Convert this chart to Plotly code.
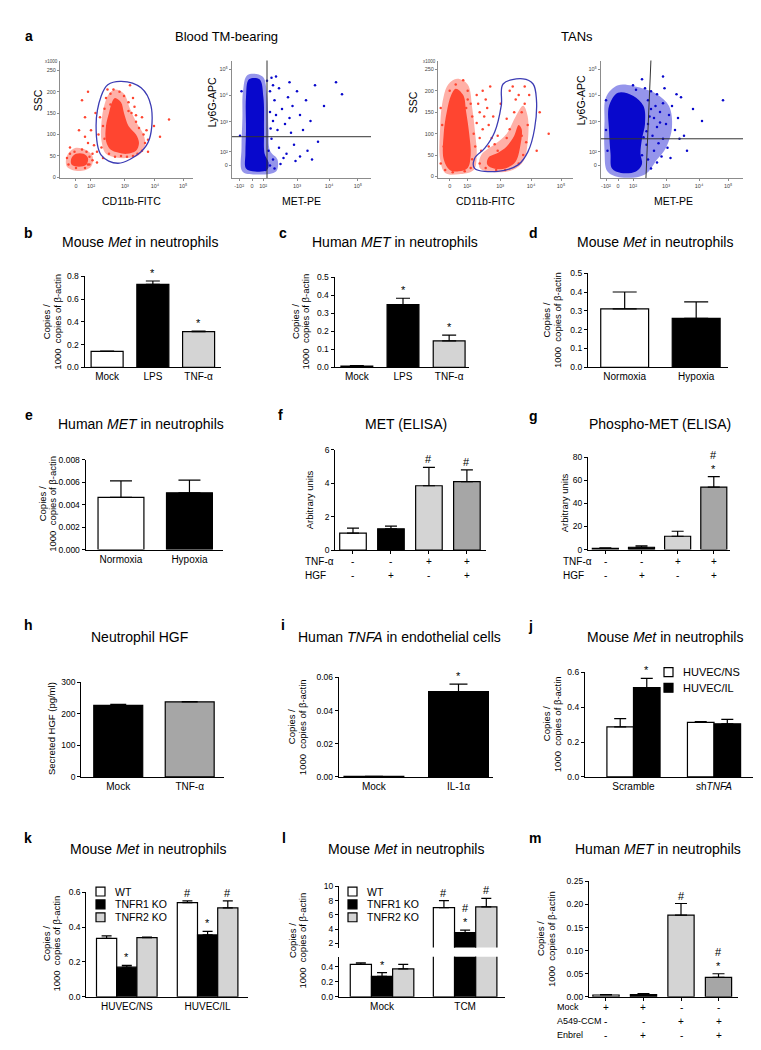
import plotly.graph_objects as go

W, H = 761, 1050
FONT = 'Liberation Sans, Arial, sans-serif'
RED = '#ff4530'
RED_HALO = 'rgba(255,80,60,0.45)'
BLUE = '#0808cc'
BLUE_HALO = 'rgba(20,20,210,0.45)'
GATE = '#3c3cb4'
WHITE, BLACK, LGREY, MGREY = '#ffffff', '#000000', '#d4d4d4', '#a6a6a6'

# ---------------- a: flow cytometry dot plots ----------------
# x / y in display units of the biexponential axes (1 unit ~ one decade), SSC in x1000
# dense = outline of the saturated core, halo = outline of the lighter fringe
a1_big_dense = [(1.3, 185), (1.5, 175), (1.6, 150), (1.75, 120), (2.0, 100), (2.1, 80), (2.0, 62),
                (1.7, 55), (1.4, 58), (1.15, 65), (1.0, 85), (1.0, 120), (1.1, 150), (1.2, 175), (1.3, 185)]
a1_big_halo = [(1.3, 205), (1.6, 195), (1.8, 160), (2.0, 130), (2.25, 100), (2.3, 75), (2.1, 52),
               (1.7, 45), (1.3, 47), (1.0, 55), (0.85, 85), (0.85, 130), (0.95, 170), (1.1, 195), (1.3, 205)]
a1_small_dense = [(-0.15, 45), (0.0, 55), (0.25, 55), (0.4, 45), (0.35, 30), (0.1, 25), (-0.15, 30), (-0.15, 45)]
a1_small_halo = [(-0.3, 50), (-0.05, 68), (0.3, 65), (0.55, 50), (0.5, 25), (0.1, 15), (-0.3, 25), (-0.3, 50)]
a1_dots = [(0.85, 70), (0.9, 120), (0.95, 160), (1.0, 185), (1.15, 195), (1.25, 205), (1.45, 200),
           (1.6, 190), (1.75, 175), (1.85, 150), (2.0, 130), (2.1, 115), (2.25, 100), (2.3, 80),
           (2.2, 62), (2.05, 55), (1.9, 50), (1.7, 48), (1.5, 50), (1.3, 48), (1.1, 55), (0.95, 90),
           (1.75, 155), (1.95, 165), (2.2, 140), (1.15, 170), (0.8, 140), (0.75, 100), (0.7, 60),
           (0.4, 80), (0.5, 110), (0.3, 140), (0.6, 75), (0.55, 55), (0.45, 30), (0.7, 35),
           (2.6, 120), (2.8, 95), (3.1, 135), (0.2, 180), (0.4, 200), (1.8, 215), (2.4, 60),
           (0.1, 110), (-0.2, 70), (0.3, 95), (-0.3, 45), (-0.25, 30), (0.4, 30), (0.45, 48),
           (0.35, 60), (0.2, 65), (-0.05, 60), (0.0, 22), (0.3, 22), (0.55, 40), (-0.2, 55),
           (2.35, 110), (2.0, 145), (1.9, 185), (1.05, 205), (0.9, 45), (2.4, 88), (0.65, 150)]
a1_gate = [(1.06, 216), (1.51, 224), (2.17, 209), (2.50, 167), (2.45, 90), (2.17, 60), (1.40, 33),
           (0.84, 52), (0.67, 121), (0.84, 190), (1.06, 216)]

a2_dense = [(-0.1, 2.9), (0.25, 2.9), (0.38, 2.3), (0.4, 1.2), (0.42, 0.4), (0.55, 0.1), (0.5, -0.15),
            (0.1, -0.2), (-0.2, -0.1), (-0.22, 0.4), (-0.2, 1.2), (-0.2, 2.3), (-0.1, 2.9)]
a2_halo = [(-0.15, 3.05), (0.35, 3.0), (0.5, 2.4), (0.55, 1.2), (0.6, 0.5), (0.85, 0.2), (0.8, -0.2),
           (0.1, -0.3), (-0.32, -0.2), (-0.35, 0.6), (-0.32, 1.6), (-0.3, 2.5), (-0.15, 3.05)]
a2_dots = [(0.6, 2.5), (0.75, 2.2), (0.9, 2.6), (1.0, 1.9), (1.2, 2.3), (1.35, 2.0), (1.5, 2.5),
           (1.6, 1.7), (1.8, 2.2), (1.95, 1.5), (2.1, 2.7), (0.7, 1.5), (0.85, 1.2), (1.1, 1.4),
           (1.3, 1.1), (0.65, 0.9), (0.9, 0.6), (1.15, 0.4), (1.4, 0.7), (1.6, 0.3), (1.85, 0.5),
           (2.2, 0.8), (0.7, 0.2), (0.95, 0.05), (0.6, 0.0), (0.55, 0.5), (0.6, 1.8), (1.7, 1.2),
           (2.4, 2.0), (3.0, 2.4), (2.8, 2.8), (0.8, 3.0), (1.25, 2.8), (0.5, 2.85), (-0.35, 2.5),
           (-0.4, 1.0), (0.65, 2.95), (1.45, 0.15), (0.45, -0.15), (0.75, -0.1), (2.0, 0.2),
           (0.7, 2.7), (0.8, 1.7), (1.05, 0.25), (0.62, 1.25), (1.25, 1.6)]
a2_vline = [(0.5, -0.5), (0.5, 3.6)]
a2_hline = [(-0.7, 0.97), (4.0, 0.97)]

a3_left_dense = [(0.2, 205), (0.45, 190), (0.55, 150), (0.65, 100), (0.7, 50), (0.6, 20), (0.3, 12),
                 (0.0, 15), (-0.2, 40), (-0.2, 100), (-0.1, 150), (0.05, 190), (0.2, 205)]
a3_left_halo = [(0.25, 228), (0.6, 215), (0.75, 160), (0.85, 100), (0.9, 50), (0.8, 15), (0.3, 5),
                (-0.15, 8), (-0.32, 40), (-0.32, 110), (-0.25, 170), (-0.05, 215), (0.25, 228)]
a3_right_dense = [(1.3, 45), (1.6, 55), (1.9, 70), (2.15, 95), (2.3, 120), (2.4, 110), (2.35, 70),
                  (2.2, 35), (1.9, 20), (1.5, 18), (1.25, 28), (1.3, 45)]
a3_right_halo = [(1.05, 50), (1.5, 75), (1.9, 100), (2.2, 140), (2.45, 165), (2.6, 140), (2.6, 80),
                 (2.45, 35), (2.1, 15), (1.5, 10), (1.0, 20), (1.05, 50)]
a3_dots = [(-0.3, 160), (-0.25, 120), (-0.2, 70), (-0.3, 30), (0.0, 200), (0.2, 215), (0.45, 225),
           (0.6, 200), (0.7, 170), (0.75, 140), (0.8, 100), (0.85, 70), (0.75, 40), (0.7, 20),
           (0.5, 12), (0.1, 10), (-0.15, 15), (0.6, 180), (0.55, 160), (0.9, 125), (1.0, 90),
           (1.05, 60), (1.0, 150), (1.1, 200), (1.2, 180), (1.3, 120), (1.4, 90), (1.1, 110),
           (1.3, 70), (1.2, 20), (1.0, 30), (0.95, 170), (1.6, 95), (1.45, 140), (1.35, 210),
           (1.6, 60), (1.5, 75), (1.9, 90), (2.0, 110), (2.4, 150), (2.5, 170), (2.3, 190),
           (2.1, 210), (2.5, 210), (2.6, 120), (2.55, 80), (2.45, 50), (2.3, 30), (1.55, 15),
           (1.85, 15), (2.15, 150), (1.9, 135), (1.7, 170), (2.0, 200), (2.65, 190), (2.4, 95),
           (3.3, 100), (2.9, 60), (3.0, 150), (0.9, 190), (1.15, 140), (1.25, 160), (2.2, 180)]
a3_gate = [(1.78, 216), (2.44, 228), (2.78, 216), (2.89, 181), (2.83, 112), (2.61, 58), (2.28, 27),
           (1.61, 12), (0.83, 19), (0.83, 42), (1.17, 66), (1.5, 104), (1.72, 166), (1.78, 216)]

a4_dense = [(0.0, 2.45), (0.5, 2.35), (0.85, 2.0), (0.9, 1.4), (0.8, 0.9), (0.75, 0.4), (0.8, 0.05),
            (0.6, -0.2), (0.1, -0.25), (-0.2, -0.1), (-0.25, 0.4), (-0.3, 1.2), (-0.3, 2.0), (0.0, 2.45)]
a4_halo = [(0.0, 2.7), (0.8, 2.6), (1.3, 2.4), (1.7, 2.0), (1.8, 1.3), (1.6, 0.6), (1.3, 0.2),
           (0.9, -0.3), (0.1, -0.4), (-0.35, -0.2), (-0.45, 0.5), (-0.45, 1.5), (-0.4, 2.3), (0.0, 2.7)]
a4_dots = [(1.0, 2.2), (1.1, 1.9), (1.2, 1.6), (1.0, 1.4), (1.3, 1.3), (1.15, 1.0), (1.4, 1.8),
           (1.5, 2.1), (1.3, 2.4), (0.95, 0.7), (1.2, 0.5), (1.5, 0.9), (1.6, 1.4), (1.7, 1.7),
           (1.8, 2.0), (1.9, 1.2), (1.0, 0.2), (1.3, 0.1), (0.9, 2.6), (0.6, 2.55), (1.65, 0.6),
           (2.0, 1.6), (2.1, 2.3), (1.45, 0.3), (0.85, 0.95), (1.05, 1.65), (1.25, 2.0), (1.35, 0.75),
           (2.2, 1.0), (2.5, 1.9), (2.8, 1.5), (1.1, 2.5), (1.55, 2.6), (0.8, 0.35), (-0.4, 1.2),
           (-0.35, 0.5), (-0.4, 2.2), (0.5, 2.7), (1.75, 0.25), (2.3, 0.5), (3.5, 2.2), (1.5, 3.0),
           (0.8, 2.9), (1.95, 2.4), (2.05, 0.9), (1.1, -0.1), (0.95, 1.15), (1.4, 1.45)]
a4_vline = [(1.1, 3.6), (0.93, -0.45)]
a4_hline = [(-0.6, 0.9), (4.2, 0.9)]

# ---------------- bar panels ----------------
b_labels = ['Mock', 'LPS', 'TNF-α']
b_vals = [0.14, 0.73, 0.315]
b_errs = [0.003, 0.03, 0.004]
b_marks = ['', '*', '*']

c_labels = ['Mock', 'LPS', 'TNF-α']
c_vals = [0.007, 0.348, 0.146]
c_errs = [0.002, 0.035, 0.033]
c_marks = ['', '*', '*']

d_labels = ['Normoxia', 'Hypoxia']
d_vals = [0.31, 0.26]
d_errs = [0.09, 0.088]

e_labels = ['Normoxia', 'Hypoxia']
e_vals = [0.00465, 0.00505]
e_errs = [0.00147, 0.00113]

f_vals = [1.02, 1.28, 3.85, 4.1]
f_errs = [0.3, 0.15, 1.1, 0.7]
f_marks = ['', '', '#', '#']
g_vals = [1.0, 2.0, 11.5, 54.0]
g_errs = [0.4, 1.2, 4.3, 9.0]
g_marks = ['', '', '', '#<br>*']
fg_tnf = ['-', '-', '+', '+']
fg_hgf = ['-', '+', '-', '+']

h_labels = ['Mock', 'TNF-α']
h_vals = [227, 238]
h_errs = [3, 1]

i_labels = ['Mock', 'IL-1α']
i_vals = [0.0003, 0.0515]
i_errs = [0.0001, 0.0045]
i_marks = ['', '*']

j_labels = ['Scramble', 'sh<i>TNFA</i>']
j_ns = [0.287, 0.313]
j_ns_err = [0.048, 0.004]
j_il = [0.513, 0.305]
j_il_err = [0.053, 0.025]
j_il_marks = ['*', '']
j_series = ['HUVEC/NS', 'HUVEC/IL']

k_labels = ['HUVEC/NS', 'HUVEC/IL']
k_wt = [0.335, 0.54]
k_wt_err = [0.015, 0.01]
k_r1 = [0.17, 0.355]
k_r1_err = [0.01, 0.02]
k_r2 = [0.34, 0.51]
k_r2_err = [0.003, 0.04]
k_marks = [['', '#'], ['*', '*'], ['', '#']]
kl_series = ['WT', 'TNFR1 KO', 'TNFR2 KO']

l_labels = ['Mock', 'TCM']
l_wt = [0.43, 7.0]
l_wt_err = [0.02, 1.0]
l_r1 = [0.27, 3.5]
l_r1_err = [0.05, 0.35]
l_r2 = [0.37, 7.1]
l_r2_err = [0.06, 1.2]
l_marks = [['', '#'], ['*', '#<br>*'], ['', '#']]

m_vals = [0.004, 0.005, 0.177, 0.042]
m_errs = [0.001, 0.002, 0.025, 0.008]
m_marks = ['', '', '#', '#<br>*']
m_mock = ['+', '+', '-', '-']
m_a549 = ['-', '-', '+', '+']
m_enbrel = ['-', '+', '-', '+']

fig = go.Figure()
layout = dict(width=W, height=H, margin=dict(l=0, r=0, t=0, b=0), paper_bgcolor='white',
              plot_bgcolor='rgba(0,0,0,0)', barmode='overlay', showlegend=False,
              font=dict(family=FONT, color='black'))
annotations = []
shapes = []


def nm(kind, n):
    return kind + ('' if n == 1 else str(n))


def dom_x(a, b):
    return [a / W, b / W]


def dom_y(top, bot):
    return [1 - bot / H, 1 - top / H]


def note(x, y, s, size=14, bold=False, angle=0, anchor='center'):
    annotations.append(dict(x=x / W, y=1 - y / H, xref='paper', yref='paper',
                            text='<b>%s</b>' % s if bold else s, showarrow=False, textangle=angle,
                            xanchor=anchor, yanchor='middle',
                            font=dict(size=size, family=FONT, color='black')))


# ---- flow panels
FLOW_AX = dict(showline=True, linecolor='#8c8c8c', linewidth=1, ticks='outside', ticklen=2,
               tickcolor='#8c8c8c', showgrid=False, zeroline=False,
               tickfont=dict(size=5.5, color='#444', family=FONT))
decades = ['10²', '10³', '10⁴', '10⁵']


def flow_axes(n, xpx, ypx, xr, yr, xt, xl, yt, yl):
    layout[nm('xaxis', n)] = dict(domain=dom_x(*xpx), range=xr, anchor=nm('y', n),
                                  tickvals=xt, ticktext=xl, **FLOW_AX)
    layout[nm('yaxis', n)] = dict(domain=dom_y(*ypx), range=yr, anchor=nm('x', n),
                                  tickvals=yt, ticktext=yl, **FLOW_AX)


def blob(n, pts, color):
    fig.add_trace(go.Scatter(x=[p[0] for p in pts], y=[p[1] for p in pts], mode='lines', fill='toself',
                             fillcolor=color, line=dict(width=0, shape='spline', color=color),
                             xaxis=nm('x', n), yaxis=nm('y', n), hoverinfo='skip'))


def dots(n, pts, color):
    fig.add_trace(go.Scatter(x=[p[0] for p in pts], y=[p[1] for p in pts], mode='markers',
                             marker=dict(size=2.5, color=color, line=dict(width=0)),
                             xaxis=nm('x', n), yaxis=nm('y', n), hoverinfo='skip'))


def path(n, pts, color, width, shape='linear'):
    fig.add_trace(go.Scatter(x=[p[0] for p in pts], y=[p[1] for p in pts], mode='lines',
                             line=dict(color=color, width=width, shape=shape),
                             xaxis=nm('x', n), yaxis=nm('y', n), hoverinfo='skip'))


ssc_ticks = [0, 50, 100, 150, 200, 250]
flow_axes(1, (52, 185), (48, 167), [-0.533, 3.9], [-2.3, 272.5],
          [0, 0.5, 1.63, 2.63, 3.57], ['0'] + decades, ssc_ticks, [str(t) for t in ssc_ticks])
flow_axes(2, (224, 363), (48, 167), [-0.667, 3.967], [-0.433, 3.533],
          [-0.43, 0, 0.37, 1.5, 2.57, 3.53], ['-10²', '0'] + decades,
          [0, 0.47, 1.47, 2.37, 3.23], ['0'] + decades)
flow_axes(3, (430, 565), (48, 167), [-0.39, 4.11], [-4.6, 270.8],
          [0, 0.58, 1.68, 2.71, 3.71], ['0'] + decades, ssc_ticks, [str(t) for t in ssc_ticks])
flow_axes(4, (593, 735), (48, 167), [-0.567, 4.167], [-0.433, 3.533],
          [-0.4, 0, 0.5, 1.6, 2.7, 3.67], ['-10²', '0'] + decades,
          [0, 0.47, 1.47, 2.37, 3.23], ['0'] + decades)

for poly in (a1_big_halo, a1_small_halo):
    blob(1, poly, RED_HALO)
for poly in (a1_big_dense, a1_small_dense):
    blob(1, poly, RED)
dots(1, a1_dots, RED)
path(1, a1_gate, GATE, 1.3, 'spline')

blob(2, a2_halo, BLUE_HALO)
blob(2, a2_dense, BLUE)
dots(2, a2_dots, BLUE)
path(2, a2_vline, '#333333', 1)
path(2, a2_hline, '#333333', 1)

for poly in (a3_left_halo, a3_right_halo):
    blob(3, poly, RED_HALO)
for poly in (a3_left_dense, a3_right_dense):
    blob(3, poly, RED)
dots(3, a3_dots, RED)
path(3, a3_gate, GATE, 1.3, 'spline')

blob(4, a4_halo, BLUE_HALO)
blob(4, a4_dense, BLUE)
dots(4, a4_dots, BLUE)
path(4, a4_vline, '#333333', 1)
path(4, a4_hline, '#333333', 1)

note(20.7, 23, 'a', bold=True)
note(218, 24, 'Blood TM-bearing', size=13)
note(569, 24, 'TANs', size=13)
for cx, cy, s, ang in [(123, 190, 'CD11b-FITC', 0), (30, 88, 'SSC', -90),
                       (293, 190, 'MET-PE', 0), (204, 90, 'Ly6G-APC', -90),
                       (477, 190, 'CD11b-FITC', 0), (405, 90, 'SSC', -90),
                       (665, 190, 'MET-PE', 0), (573, 88, 'Ly6G-APC', -90)]:
    note(cx, cy, s, size=10.5, angle=ang)
for xx in (52, 430):
    annotations.append(dict(x=xx / W, y=1 - 49 / H, xref='paper', yref='paper', text='x1000',
                            showarrow=False, xanchor='right', yanchor='middle',
                            font=dict(size=4.5, color='#444', family=FONT)))

# ---- bar panels
BAR_Y = dict(showline=True, linecolor='black', linewidth=1.3, ticks='outside', ticklen=3, tickwidth=1.2,
             tickcolor='black', showgrid=False, zeroline=False,
             tickfont=dict(size=8.5, family=FONT, color='black'))
BAR_X = dict(showline=True, linecolor='black', linewidth=1.3, showgrid=False, zeroline=False,
             ticklen=3, tickwidth=1.2, tickcolor='black', tickfont=dict(size=10, family=FONT, color='black'))


def bar_axes(n, xpx, ypx, xr, yr, dtick, fmt, ticktext=None, ncat=None, showx=True):
    xa = dict(domain=dom_x(*xpx), range=xr, anchor=nm('y', n), visible=showx, **BAR_X)
    if ticktext:
        xa.update(tickvals=list(range(len(ticktext))), ticktext=ticktext, ticks='')
    else:
        # category ticks only; the +/- rows underneath carry the meaning
        xa.update(tickvals=list(range(ncat)), ticks='outside', showticklabels=False)
    layout[nm('xaxis', n)] = xa
    layout[nm('yaxis', n)] = dict(domain=dom_y(*ypx), range=yr, anchor=nm('x', n),
                                  tick0=0, dtick=dtick, tickformat=fmt, **BAR_Y)


def bars(n, vals, errs, colors, width, cap, offset=None, marks=None, yref=None):
    pos = list(range(len(vals)))
    off = -width / 2 if offset is None else offset
    fig.add_trace(go.Bar(x=pos, y=vals, width=width, offset=off,
                         marker=dict(color=colors, line=dict(color='black', width=1.2)),
                         error_y=dict(type='data', symmetric=False, array=errs,
                                      arrayminus=[0] * len(errs), color='black', thickness=1.2, width=cap),
                         xaxis=nm('x', n), yaxis=nm('y', n), hoverinfo='skip'))
    if marks:
        for p, v, e, s in zip(pos, vals, errs, marks):
            if s:
                ya = yref(v) if yref else n
                annotations.append(dict(x=p + off + width / 2, y=v + e, xref=nm('x', ya), yref=nm('y', ya),
                                        text=s, showarrow=False, yanchor='bottom', yshift=0,
                                        font=dict(size=11, family=FONT, color='black')))


def ytitle(x, y, s, size=9.5):
    note(x, y, s, size=size, angle=-90)


def copies(x1, x2, y):
    ytitle(x1, y, 'Copies /')
    ytitle(x2, y, '1000  copies of β-actin')


def legend_keys(x, ys, colors, labels, size=9, font=11):
    for y, col, lab in zip(ys, colors, labels):
        shapes.append(dict(type='rect', xref='paper', yref='paper', x0=x / W, x1=(x + size) / W,
                           y0=1 - (y + size / 2) / H, y1=1 - (y - size / 2) / H, fillcolor=col,
                           line=dict(color='black', width=1.2)))
        note(x + size + 8, y, lab, size=font, anchor='left')


# b
bar_axes(5, (76.7, 213), (266, 357.7), [-0.49, 2.49], [0, 0.8], 0.2, '.1f', b_labels)
bars(5, b_vals, b_errs, [WHITE, BLACK, LGREY], 0.7, 7, marks=b_marks)
note(20.7, 222, 'b', bold=True)
note(131.7, 231, 'Mouse <i>Met</i> in neutrophils')
copies(38.3, 48.6, 312)
# c
bar_axes(6, (326.7, 461), (266.7, 357.7), [-0.48, 2.43], [0, 0.5], 0.1, '.1f', c_labels)
bars(6, c_vals, c_errs, [WHITE, BLACK, LGREY], 0.69, 7, marks=c_marks)
note(275, 222, 'c', bold=True)
note(386.7, 231, 'Human <i>MET</i> in neutrophils')
copies(287, 297.5, 312)
# d
bar_axes(7, (580, 720), (262.7, 357.7), [-0.513, 1.445], [0, 0.5], 0.1, '.1f', d_labels)
bars(7, d_vals, d_errs, [WHITE, BLACK], 0.67, 12)
note(525, 222, 'd', bold=True)
note(646.7, 231, 'Mouse <i>Met</i> in neutrophils')
copies(538.5, 549, 310)
# e
bar_axes(8, (77.7, 215), (451, 541.7), [-0.515, 1.49], [0, 0.008], 0.002, '.3f', e_labels)
bars(8, e_vals, e_errs, [WHITE, BLACK], 0.67, 11)
note(20.7, 406, 'e', bold=True)
note(133.3, 415, 'Human <i>MET</i> in neutrophils')
copies(34, 44.5, 496)
# f
bar_axes(9, (327.3, 477.7), (441, 542.3), [-0.466, 3.495], [0, 6], 2, 'd', ncat=len(f_vals))
bars(9, f_vals, f_errs, [WHITE, BLACK, LGREY, MGREY], 0.7, 6, marks=f_marks)
note(272.7, 406, 'f', bold=True)
note(398.3, 415, 'MET (ELISA)')
ytitle(301, 492, 'Arbitrary units')
# g
bar_axes(10, (580, 721.7), (448.3, 541.7), [-0.48, 3.44], [0, 80], 20, 'd', ncat=len(g_vals))
bars(10, g_vals, g_errs, [WHITE, BLACK, LGREY, MGREY], 0.72, 6, marks=g_marks)
note(525, 407, 'g', bold=True)
note(651.7, 415, 'Phospho-MET (ELISA)')
ytitle(556, 495, 'Arbitrary units')


def sign_rows(n, names, rows, ys, xlabel, size=10):
    for lab, row, y in zip(names, rows, ys):
        note(xlabel, y, lab, size=size, anchor='left')
        for i, s in enumerate(row):
            annotations.append(dict(x=i, xref=nm('x', n), y=1 - y / H, yref='paper', text=s,
                                    showarrow=False, yanchor='middle',
                                    font=dict(size=10, family=FONT, color='black')))


sign_rows(9, ['TNF-α', 'HGF'], [fg_tnf, fg_hgf], [553.3, 567.7], 295)
sign_rows(10, ['TNF-α', 'HGF'], [fg_tnf, fg_hgf], [553.3, 567.7], 553)

# h
bar_axes(11, (73.3, 216), (675.7, 771.3), [-0.517, 1.48], [0, 300], 100, 'd', h_labels)
bars(11, h_vals, h_errs, [BLACK, MGREY], 0.685, 8)
note(20, 618, 'h', bold=True)
note(131.7, 630, 'Neutrophil HGF')
ytitle(43, 723, 'Secreted HGF (pg/ml)')
# i
bar_axes(12, (330.9, 485), (670.8, 771.3), [-0.414, 1.408], [0, 0.06], 0.02, '.2f', i_labels)
bars(12, i_vals, i_errs, [WHITE, BLACK], 0.707, 9, marks=i_marks)
note(275, 618, 'i', bold=True)
note(391, 630, 'Human <i>TNFA</i> in endothelial cells')
copies(283, 294, 721)
# j
bar_axes(13, (577, 745), (665.7, 771.3), [-0.602, 1.484], [0, 0.6], 0.2, '.1f', j_labels)
bars(13, j_ns, j_ns_err, WHITE, 0.33, 6, offset=-0.33)
bars(13, j_il, j_il_err, BLACK, 0.33, 6, offset=0, marks=j_il_marks)
note(522.7, 619, 'j', bold=True)
note(656.7, 630, 'Mouse <i>Met</i> in neutrophils')
copies(538, 549, 718)
legend_keys(656, [665.5, 681.3], [WHITE, BLACK], j_series)

# k
bar_axes(14, (78.4, 240), (887.7, 993.3), [-0.5, 1.5], [0, 0.6], 0.2, '.1f', k_labels)
k_w = 0.25
for i, (v, e, col) in enumerate(zip([k_wt, k_r1, k_r2], [k_wt_err, k_r1_err, k_r2_err],
                                    [WHITE, BLACK, LGREY])):
    bars(14, v, e, col, k_w, 5, offset=-1.5 * k_w + i * k_w, marks=k_marks[i])
note(19.6, 833, 'k', bold=True)
note(139.7, 844, 'Mouse <i>Met</i> in neutrophils')
copies(38, 48.5, 940)
legend_keys(88, [887, 900, 913], [WHITE, BLACK, LGREY], kl_series, font=10.5)

# l (broken axis: upper 15, lower 16)
bar_axes(15, (331, 497), (881.7, 943.5), [-0.518, 1.48], [1.4, 10], 2, 'd', l_labels, showx=False)
bar_axes(16, (331, 497), (952.9, 993.3), [-0.518, 1.48], [0, 0.53], 0.2, '.1f', l_labels)
l_w = 0.255


def l_axis(v):
    return 15 if v > 1 else 16


for i, (v, e, col) in enumerate(zip([l_wt, l_r1, l_r2], [l_wt_err, l_r1_err, l_r2_err],
                                    [WHITE, BLACK, LGREY])):
    bars(15, v, e, col, l_w, 5, offset=-1.5 * l_w + i * l_w)
    bars(16, v, e, col, l_w, 5, offset=-1.5 * l_w + i * l_w, marks=l_marks[i], yref=l_axis)
note(276, 833, 'l', bold=True)
note(398, 844, 'Mouse <i>Met</i> in neutrophils')
copies(284, 294.5, 937)
legend_keys(340, [887, 900, 913], [WHITE, BLACK, LGREY], kl_series, font=10.5)

# m
bar_axes(17, (581, 730), (876.7, 993.3), [-0.453, 3.52], [0, 0.25], 0.05, '.2f', ncat=len(m_vals))
bars(17, m_vals, m_errs, [WHITE, BLACK, LGREY, MGREY], 0.7, 6, marks=m_marks)
note(527, 833, 'm', bold=True)
note(650, 844, 'Human <i>MET</i> in neutrophils')
copies(532, 543, 935)
sign_rows(17, ['Mock', 'A549-CCM', 'Enbrel'], [m_mock, m_a549, m_enbrel], [1004, 1018, 1032], 547, size=9)

layout['annotations'] = annotations
layout['shapes'] = shapes
fig.update_layout(**layout)
fig.write_html('out.html')
